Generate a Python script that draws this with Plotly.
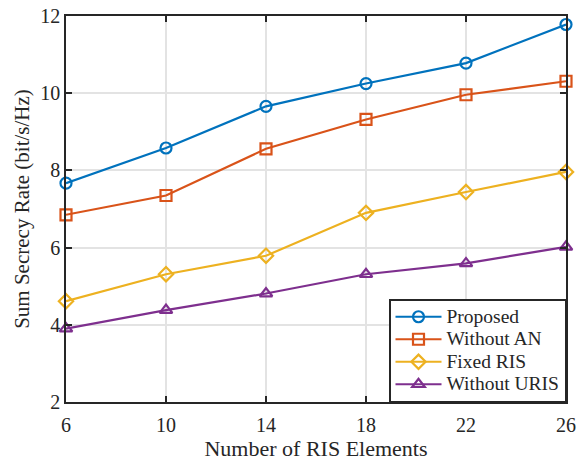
import plotly.graph_objects as go

x_elements = [6, 10, 14, 18, 22, 26]
proposed = [7.67, 8.58, 9.66, 10.25, 10.78, 11.78]
without_an = [6.85, 7.35, 8.56, 9.32, 9.96, 10.31]
fixed_ris = [4.61, 5.31, 5.79, 6.90, 7.44, 7.96]
without_uris = [3.90, 4.38, 4.81, 5.31, 5.59, 6.02]

series = [
    ("Proposed", proposed, "#0072BD", "circle-open"),
    ("Without AN", without_an, "#D95319", "square-open"),
    ("Fixed RIS", fixed_ris, "#EDB120", "diamond-open"),
    ("Without URIS", without_uris, "#7E2F8E", "triangle-up-open"),
]

fig = go.Figure()
for name, vals, color, sym in series:
    fig.add_trace(go.Scatter(
        x=x_elements, y=vals, mode="lines+markers",
        name=f"<span style='font-size:19.5px'>{name}</span>",
        line=dict(color=color, width=2.2),
        marker=dict(symbol=sym, size=11, color=color, line=dict(width=2.2, color=color)),
        cliponaxis=False,
    ))

font_family = "Liberation Serif, Times New Roman, serif"
axis_common = dict(
    showline=True, linecolor="#262626", linewidth=1.5, mirror="ticks",
    ticks="inside", ticklen=6, tickwidth=1.5, tickcolor="#262626",
    showgrid=True, gridcolor="#e3e3e3", gridwidth=1.5, zeroline=False,
    tickfont=dict(family=font_family, size=20, color="#262626"),
    automargin=False,
)

fig.update_layout(
    width=577, height=462,
    margin=dict(l=66, r=11, t=16, b=60),
    paper_bgcolor="white", plot_bgcolor="white",
    font=dict(family=font_family, color="#262626"),
    xaxis=dict(range=[6, 26], tickvals=[6, 10, 14, 18, 22, 26], ticklabelstandoff=4,
               title=dict(text="Number of RIS Elements", font=dict(size=22, family=font_family), standoff=2),
               **axis_common),
    yaxis=dict(range=[2, 12], tickvals=[2, 4, 6, 8, 10, 12],
               title=dict(text="Sum Secrecy Rate (bit/s/Hz)", font=dict(size=21, family=font_family), standoff=5),
               **axis_common),
    legend=dict(x=1, y=0, xanchor="right", yanchor="bottom",
                bordercolor="#262626", borderwidth=1.5, bgcolor="white",
                font=dict(family=font_family, size=15, color="#262626"),
                tracegroupgap=0, itemwidth=46),
    showlegend=True,
)

fig.write_html("out.html", config={"displayModeBar": False},
               post_script="document.body.style.margin='0';")
